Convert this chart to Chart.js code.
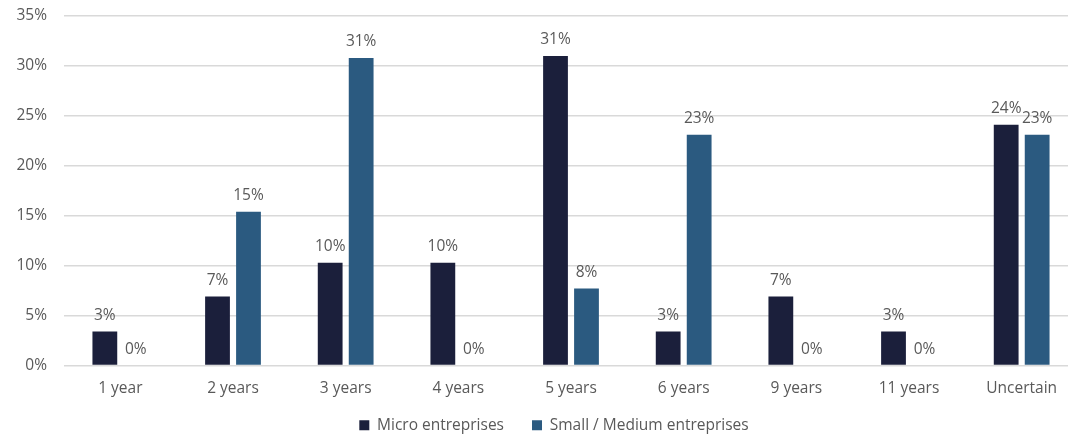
<!DOCTYPE html>
<html>
<head>
<meta charset="utf-8">
<script src="https://cdn.jsdelivr.net/npm/chart.js@4/dist/chart.umd.min.js"></script>
<style>
  html, body { margin: 0; padding: 0; background: #ffffff; overflow: hidden; }
  #wrap { width: 1106px; height: 443px; position: relative; }
</style>
</head>
<body>
<div id="wrap"><canvas id="chart"></canvas></div>
<script>
// Time horizon categories
const categories = ['1 year', '2 years', '3 years', '4 years', '5 years', '6 years', '9 years', '11 years', 'Uncertain'];

// Share of respondents (%) per enterprise size
const microValues = [3.4, 6.9, 10.3, 10.3, 31.0, 3.4, 6.9, 3.4, 24.1];
const smallMediumValues = [0, 15.4, 30.8, 0, 7.7, 23.1, 0, 0, 23.1];

// Y axis range and tick spacing (%)
const yMax = 35;
const yStep = 5;

const seriesNames = ['Micro entreprises', 'Small / Medium entreprises'];
const seriesColors = ['#1b1f3b', '#2b5a80'];
const textColor = '#595959';
const fontFamily = "'Open Sans', 'DejaVu Sans', sans-serif";
const fontSize = 15.5;

// Writes the rounded percentage above each bar
const valueLabels = {
  id: 'valueLabels',
  afterDatasetsDraw(chart) {
    const ctx = chart.ctx;
    ctx.save();
    ctx.font = fontSize + 'px ' + fontFamily;
    ctx.fillStyle = textColor;
    ctx.textAlign = 'center';
    ctx.textBaseline = 'alphabetic';
    chart.data.datasets.forEach((ds, i) => {
      chart.getDatasetMeta(i).data.forEach((bar, j) => {
        ctx.fillText(Math.round(ds.data[j]) + '%', bar.x, bar.y - 12);
      });
    });
    ctx.restore();
  }
};

// The category axis is kept short so the legend sits close to it;
// its label clip box is extended so the category names are not cut off.
// The legend is centred under the left part of the canvas.
const layoutTweaks = {
  id: 'layoutTweaks',
  afterLayout(chart) {
    const x = chart.scales.x;
    x.bottom = x.top + 40;
    chart.legend.left = 30;
  }
};

new Chart(document.getElementById('chart'), {
  type: 'bar',
  data: {
    labels: categories,
    datasets: [
      { label: seriesNames[0], data: microValues, backgroundColor: seriesColors[0] },
      { label: seriesNames[1], data: smallMediumValues, backgroundColor: seriesColors[1] }
    ]
  },
  options: {
    responsive: true,
    maintainAspectRatio: false,
    animation: false,
    datasets: {
      bar: { categoryPercentage: 0.55, barPercentage: 0.8 }
    },
    layout: { padding: { top: 0, right: 28, bottom: 0, left: 0 } },
    scales: {
      x: {
        afterFit(scale) { scale.height = 24; },
        grid: { display: false },
        border: { display: false },
        ticks: { color: textColor, font: { family: fontFamily, size: fontSize }, padding: 6 }
      },
      y: {
        min: 0,
        max: yMax,
        afterFit(scale) { scale.width = 64; scale.paddingTop = 16; },
        grid: { color: '#d9d9d9', lineWidth: 1.5, drawTicks: false },
        border: { display: false },
        ticks: {
          stepSize: yStep,
          color: textColor,
          padding: 17,
          font: { family: fontFamily, size: fontSize },
          callback: v => v + '%'
        }
      }
    },
    plugins: {
      legend: {
        position: 'bottom',
        labels: {
          color: textColor,
          boxWidth: 10,
          boxHeight: 10,
          padding: 28,
          font: { family: fontFamily, size: fontSize }
        }
      },
      tooltip: { enabled: false }
    }
  },
  plugins: [valueLabels, layoutTweaks]
});
</script>
</body>
</html>
